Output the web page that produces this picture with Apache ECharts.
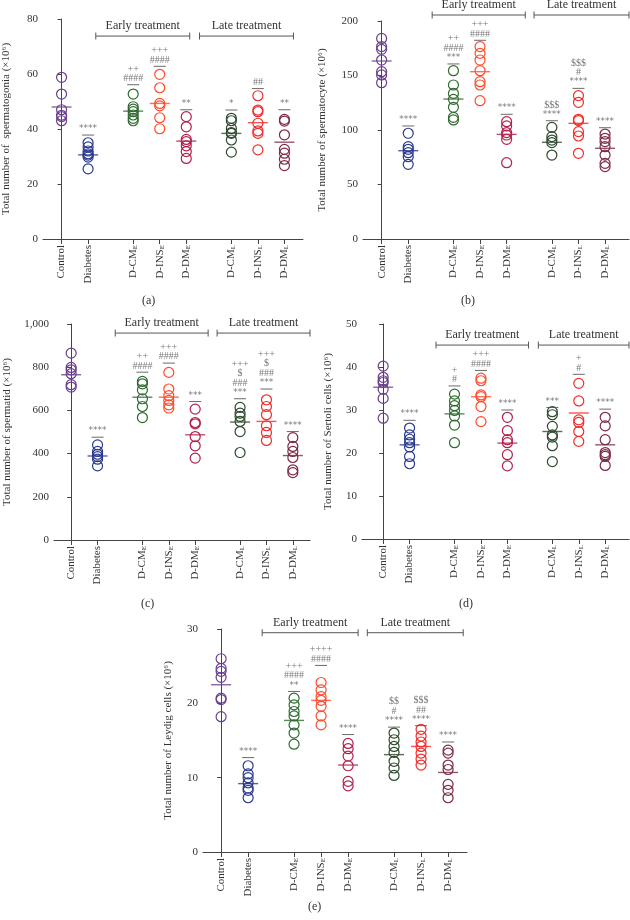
<!DOCTYPE html>
<html><head><meta charset="utf-8">
<script src="https://cdn.jsdelivr.net/npm/echarts@6/dist/echarts.min.js"></script>
<style>html,body{margin:0;padding:0;background:#fff}#c{width:630px;height:920px}</style>
</head><body><div id="c"></div>
<script>
// ---- groups ----
const groupNames = ['Control', 'Diabetes', 'D-CM', 'D-INS', 'D-DM', 'D-CM', 'D-INS', 'D-DM'];
const groupSubs = ['', '', 'E', 'E', 'E', 'L', 'L', 'L'];
const groupColors = ['#6b3f8e', '#2b3a8f', '#2f6b30', '#ff4b2b', '#b3204a', '#2e4a2e', '#f22b2b', '#7b2a47'];
const bracketLabels = ['Early treatment', 'Late treatment'];

// ---- (a) spermatogonia ----
const spermatogonia = [
  [58.8, 52.7, 47, 45, 44.5, 43],
  [35, 33.5, 32, 31, 30.5, 29.8, 25.5],
  [52.7, 48.1, 47.2, 46.3, 45.1, 43.9, 43],
  [59.9, 55, 49.3, 48.4, 44.1, 40.1],
  [44.5, 40.8, 36.2, 35.4, 33.9, 31.8, 29.3],
  [43.9, 43, 40.2, 38.7, 38.4, 36, 31.6],
  [52.1, 46.9, 46.3, 42.1, 39.3, 38.4, 32.4],
  [43.5, 42.9, 37.9, 32.6, 31.2, 29, 26.7]
];
const spermatogoniaMeans = [48, 30.6, 46.5, 49.3, 35.6, 38.4, 42.3, 35.2];
const spermatogoniaSigLevels = [null, 37.8, 56.1, 62.8, 47, 46.9, 54.7, 47];
const spermatogoniaSigLabels = [[], ['****'], ['####', '++'], ['####', '+++'], ['**'], ['*'], ['##'], ['**']];

// ---- (b) spermatocyte ----
const spermatocyte = [
  [184, 176.5, 174, 164.2, 153.5, 150.5, 143.4],
  [97, 84.7, 82.3, 79.2, 75.5, 68.5],
  [154.4, 141.3, 133.6, 128.1, 120.8, 111.6, 109.2],
  [176.5, 170.3, 164.2, 154.4, 144.3, 141.3, 126.9],
  [107.6, 103.7, 97.6, 95.4, 91.4, 70],
  [102.4, 93.9, 90.8, 88.4, 77],
  [131.5, 125.4, 109.8, 108.6, 98.5, 94.5, 78.6],
  [96.3, 92.4, 89.3, 84.7, 77, 69.4, 66.4]
];
const spermatocyteMeans = [163.3, 81, 128.4, 153.5, 96, 88.7, 106.1, 83.2];
const spermatocyteSigLevels = [null, 103.7, 160.6, 182.3, 114.4, 108.5, 138.2, 102.1];
const spermatocyteSigLabels = [[], ['****'], ['***', '####', '++'], ['####', '+++'], ['****'], ['****', '$$$'], ['****', '#', '$$$'], ['****']];

// ---- (c) spermatid ----
const spermatid = [
  [865, 799, 788, 770, 719, 708],
  [440, 410, 397, 386, 374, 343],
  [734, 723, 695, 654, 618, 567],
  [776, 699, 668, 646, 626, 611],
  [606, 544, 538, 479, 436, 379],
  [614, 587, 572, 549, 502, 405],
  [649, 618, 580, 529, 498, 461],
  [474, 433, 410, 382, 325, 312]
];
const spermatidMeans = [765, 389, 661, 661, 487, 546, 549, 391];
const spermatidSigLevels = [null, 476, 777, 819, 641, 654, 699, 502];
const spermatidSigLabels = [[], ['****'], ['####', '++'], ['####', '+++'], ['***'], ['***', '###', '$', '+++'], ['***', '###', '$', '+++'], ['****']];

// ---- (d) Sertoli cells ----
const sertoli = [
  [40.2, 37.6, 36.8, 36.4, 34.8, 32.7, 28.1],
  [25.8, 24.2, 23.2, 22.4, 21.4, 19.2, 17.5],
  [33.7, 32.1, 31, 29.9, 28.6, 26.5, 22.4],
  [37.4, 36.8, 33.5, 33.1, 30.8, 27.3],
  [28.3, 25.2, 23.1, 22.4, 19.6, 17],
  [29.6, 28.9, 26.2, 24.2, 23.7, 21.7, 18],
  [36.2, 32.1, 27.7, 27.1, 25, 22.7],
  [28.3, 26.3, 23.1, 20.1, 19.6, 19.2, 17.1]
];
const sertoliMeans = [35.3, 21.9, 29.1, 33.1, 22.3, 25, 29.3, 21.9];
const sertoliSigLevels = [null, 27.6, 35.6, 39.2, 30, 30.6, 38.3, 30.2];
const sertoliSigLabels = [[], ['****'], ['#', '+'], ['####', '+++'], ['****'], ['***'], ['#', '+'], ['****']];

// ---- (e) Leydig cells ----
const leydig = [
  [26, 24.7, 24.3, 23.5, 20.7, 20.5, 18.2],
  [11.6, 10.5, 10, 9.3, 8.6, 8.3, 7.3],
  [20.7, 19.8, 18.9, 18.3, 17.1, 16, 14.5],
  [22.8, 21.8, 20.9, 20.4, 19.6, 18.3, 17.1],
  [14.6, 13.9, 12.9, 11.6, 9.5, 8.9],
  [16, 15.1, 14.2, 13.4, 12.2, 11.3, 10.3],
  [16.5, 15.6, 14.8, 14.2, 13.3, 12.5, 11.7],
  [13.7, 13.3, 11.7, 11.1, 9.1, 8.3, 7.3]
];
const leydigMeans = [22.5, 9.2, 17.7, 20.4, 11.7, 13.1, 14.2, 10.7];
const leydigSigLevels = [null, 12.7, 21.6, 25.1, 15.8, 16.8, 17, 14.8];
const leydigSigLabels = [[], ['****'], ['**', '####', '+++'], ['####', '++++'], ['****'], ['****', '#', '$$'], ['****', '##', '$$$'], ['****']];

// ---- layout (positions of groups along x, with gaps between blocks) ----
const xPos = [0, 1, 2.7, 3.7, 4.7, 6.4, 7.4, 8.4];
const SERIF = '"Liberation Serif", "DejaVu Serif", serif';

const panels = [
  { letter: '(a)', lx: 150, ly: 302, grid: { left: 42, top: 19, width: 261, height: 220 }, xMin: -0.7, xMax: 9.1,
    yMax: 80, yInt: 20, name: 'Total number of  spermatogonia (×10⁶)', nameGap: 31,
    data: spermatogonia, means: spermatogoniaMeans, sigL: spermatogoniaSigLevels, sigT: spermatogoniaSigLabels,
    brackets: [[1.29, 4.83], [5.2, 8.74]], bracketY: 73.8 },
  { letter: '(b)', lx: 469, ly: 302, grid: { left: 363, top: 21, width: 266, height: 218 }, xMin: -0.7, xMax: 9.3,
    yMax: 200, yInt: 50, name: 'Total number of spermatocyte (×10⁶)', nameGap: 35,
    data: spermatocyte, means: spermatocyteMeans, sigL: spermatocyteSigLevels, sigT: spermatocyteSigLabels,
    brackets: [[1.9, 5.4], [5.73, 9.3]], bracketY: 205.5 },
  { letter: '(c)', lx: 149, ly: 605, grid: { left: 54, top: 324, width: 256, height: 216 }, xMin: -0.65, xMax: 9.05,
    yMax: 1000, yInt: 200, name: 'Total number of spermatid (×10⁶)', nameGap: 41,
    data: spermatid, means: spermatidMeans, sigL: spermatidSigLevels, sigT: spermatidSigLabels,
    brackets: [[1.67, 5.19], [5.53, 9.05]], bracketY: 958 },
  { letter: '(d)', lx: 467, ly: 605, grid: { left: 362, top: 324, width: 267, height: 215 }, xMin: -0.8, xMax: 9.3,
    yMax: 50, yInt: 10, name: 'Total number of Sertoli cells (×10⁶)', nameGap: 28,
    data: sertoli, means: sertoliMeans, sigL: sertoliSigLevels, sigT: sertoliSigLabels,
    brackets: [[2.0, 5.5], [5.87, 9.3]], bracketY: 45.1 },
  { letter: '(e)', lx: 316, ly: 908, grid: { left: 203, top: 629, width: 264, height: 223 }, xMin: -0.67, xMax: 9.1,
    yMax: 30, yInt: 10, name: 'Total number of Leydig cells (×10⁶)', nameGap: 29,
    data: leydig, means: leydigMeans, sigL: leydigSigLevels, sigT: leydigSigLabels,
    brackets: [[1.52, 5.07], [5.41, 8.96]], bracketY: 29.5 }
];

function labelFor(v) {
  const i = xPos.findIndex(p => Math.abs(p - v) < 1e-6);
  if (i < 0) return '';
  return groupSubs[i] ? groupNames[i] + '{s|' + groupSubs[i] + '}' : groupNames[i];
}
function sigLine(t) {
  return /^\*+$/.test(t) ? '{a|' + t + '}' : '{h|' + t + '}';
}

const grids = [], xAxes = [], yAxes = [], series = [], graphics = [];
panels.forEach((p, i) => {
  grids.push(Object.assign({ containLabel: false }, p.grid));
  xAxes.push({
    type: 'value', gridIndex: i, min: p.xMin, max: p.xMax,
    axisLine: { show: true, lineStyle: { color: '#444', width: 1 } },
    axisTick: { show: true, customValues: xPos, length: 5, lineStyle: { color: '#444' } },
    axisLabel: {
      customValues: xPos, rotate: 90, margin: 6, color: '#333', fontFamily: SERIF, fontSize: 11,
      formatter: labelFor,
      rich: { s: { fontSize: 7, fontFamily: SERIF, color: '#333', verticalAlign: 'bottom' } }
    },
    splitLine: { show: false }
  });
  yAxes.push({
    type: 'value', gridIndex: i, min: 0, max: p.yMax, interval: p.yInt,
    name: p.name, nameLocation: 'middle', nameGap: p.nameGap,
    nameTextStyle: { fontFamily: SERIF, fontSize: 11, color: '#333' },
    axisLine: { show: true, lineStyle: { color: '#444', width: 1 } },
    axisTick: { show: true, length: 4, lineStyle: { color: '#444' } },
    axisLabel: { margin: 5, color: '#333', fontFamily: SERIF, fontSize: 11,
      formatter: v => v >= 1000 ? v.toLocaleString('en-US') : String(v) },
    splitLine: { show: false }
  });

  // individual points
  const pts = [];
  p.data.forEach((arr, g) => arr.forEach(v => pts.push({
    value: [xPos[g], v], itemStyle: { borderColor: groupColors[g] }
  })));
  series.push({
    type: 'scatter', xAxisIndex: i, yAxisIndex: i, symbol: 'circle', symbolSize: 10, silent: true,
    itemStyle: { color: 'rgba(0,0,0,0)', borderWidth: 1.2, opacity: 1 },
    data: pts, z: 2
  });
  // mean lines
  series.push({
    type: 'scatter', xAxisIndex: i, yAxisIndex: i, symbol: 'rect', symbolSize: [20, 1.4], silent: true,
    data: p.means.map((m, g) => ({ value: [xPos[g], m], itemStyle: { color: groupColors[g] } })), z: 3
  });
  // significance bars with stacked labels
  const sig = [];
  p.sigL.forEach((lv, g) => { if (lv != null) sig.push({ value: [xPos[g], lv], lines: p.sigT[g] }); });
  series.push({
    type: 'scatter', xAxisIndex: i, yAxisIndex: i, symbol: 'rect', symbolSize: [12, 1], silent: true,
    itemStyle: { color: '#444' },
    label: {
      show: true, position: 'top', distance: 1, color: '#555',
      formatter: prm => prm.data.lines.slice().reverse().map(sigLine).join('\n'),
      rich: {
        a: { fontFamily: '"DejaVu Sans", sans-serif', fontSize: 9, lineHeight: 9.5, color: '#555' },
        h: { fontFamily: SERIF, fontSize: 10, lineHeight: 9.5, color: '#555' }
      }
    },
    data: sig, z: 4
  });
  // treatment brackets
  series.push({
    type: 'custom', xAxisIndex: i, yAxisIndex: i, clip: false, silent: true,
    data: p.brackets.map((b, k) => [b[0], p.bracketY, b[1], k]),
    renderItem: (params, api) => {
      const a = api.coord([api.value(0), api.value(1)]);
      const b = api.coord([api.value(2), api.value(1)]);
      const k = api.value(3);
      const st = { stroke: '#555', lineWidth: 1 };
      return { type: 'group', children: [
        { type: 'line', shape: { x1: a[0], y1: a[1], x2: b[0], y2: b[1] }, style: st },
        { type: 'line', shape: { x1: a[0], y1: a[1] - 3.5, x2: a[0], y2: a[1] + 3.5 }, style: st },
        { type: 'line', shape: { x1: b[0], y1: b[1] - 3.5, x2: b[0], y2: b[1] + 3.5 }, style: st },
        { type: 'text', x: (a[0] + b[0]) / 2, y: a[1] - 4,
          style: { text: bracketLabels[k], align: 'center', verticalAlign: 'bottom', fill: '#333',
                   fontFamily: SERIF, fontSize: 12 } }
      ] };
    }
  });
  graphics.push({ type: 'text', left: p.lx - 8, top: p.ly - 7,
    style: { text: p.letter, fill: '#333', fontFamily: SERIF, fontSize: 12 } });
});

const chart = echarts.init(document.getElementById('c'), null, { renderer: 'canvas' });
chart.setOption({
  backgroundColor: '#fff',
  animation: false,
  grid: grids, xAxis: xAxes, yAxis: yAxes, series: series, graphic: graphics
});
</script></body></html>
